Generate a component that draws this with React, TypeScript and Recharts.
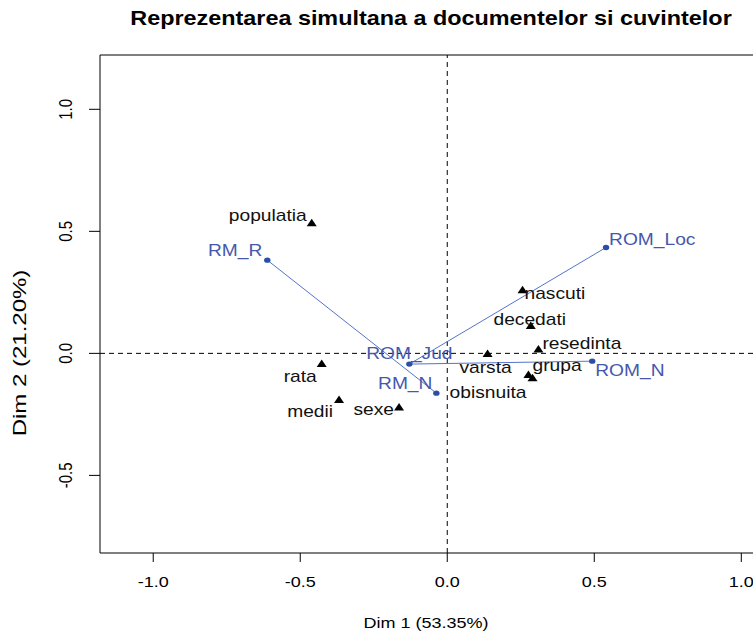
import { ScatterChart, Scatter, XAxis, YAxis, ReferenceLine, ReferenceArea } from 'recharts';

// documents (rows) and words (columns) on the first two CA dimensions
const docNames = ['RM_R', 'RM_N', 'ROM_Loc', 'ROM_Jud', 'ROM_N'];
const docDim1 = [-0.612, -0.037, 0.54, -0.129, 0.493];
const docDim2 = [0.382, -0.163, 0.434, -0.044, -0.032];

const wordNames = ['populatia', 'nascuti', 'decedati', 'resedinta', 'varsta', 'grupa', 'obisnuita', 'rata', 'medii', 'sexe'];
const wordDim1 = [-0.461, 0.256, 0.284, 0.31, 0.137, 0.29, 0.276, -0.427, -0.368, -0.164];
const wordDim2 = [0.533, 0.259, 0.112, 0.016, -0.003, -0.102, -0.089, -0.044, -0.191, -0.222];

const xTicks = [-1, -0.5, 0, 0.5, 1];
const yTicks = [-0.5, 0, 0.5, 1];
const xDomain = [-1.181, 1.0636];
const yDomain = [-0.818, 1.2225];

// where each label sits relative to its point (px)
const labelPos: Record<string, [string, number, number]> = {
  RM_R: ['end', -5, -10],
  RM_N: ['end', -4, -10],
  ROM_Loc: ['start', 3, -8],
  ROM_Jud: ['middle', 0, -11],
  ROM_N: ['start', 3, 9],
  populatia: ['end', -5, -8],
  nascuti: ['start', 2, 3],
  decedati: ['middle', -1, -6],
  resedinta: ['start', 4, -6],
  varsta: ['middle', -2, 13],
  grupa: ['start', 0, -13],
  obisnuita: ['end', -2, 17],
  rata: ['end', -5, 12],
  medii: ['end', -6, 12],
  sexe: ['end', -5, 2],
};

const FONT = '"Liberation Sans", Arial, Helvetica, sans-serif';
const SX = 1.2; // the picture is stretched sideways
const BLUE_TXT = '#4558ad';
const BLUE_LINE = '#5474c8';
const BLUE_DOT = '#2c4fa6';

const docs = docNames.map((name, i) => ({ name, x: docDim1[i], y: docDim2[i] }));
const rmDocs = docs.filter(d => d.name.startsWith('RM_'));
const romDocs = [docs[2], docs[3], docs[4]];
const words = wordNames.map((name, i) => ({ name, x: wordDim1[i], y: wordDim2[i] }));

function SText({ x, y, anchor = 'middle', rotate = false, sy = 1, size = 15, weight = 400, fill = '#000', baseline, children }: any) {
  return (
    <text
      transform={`translate(${x},${y}) scale(${SX},${sy})${rotate ? ' rotate(-90)' : ''}`}
      textAnchor={anchor}
      dominantBaseline={baseline}
      fontSize={size}
      fontWeight={weight}
      fill={fill}
      fontFamily={FONT}
    >
      {children}
    </text>
  );
}

function Label({ cx, cy, name, color }: any) {
  const [anchor, dx, dy] = labelPos[name] || ['start', 4, 0];
  return (
    <SText x={cx + dx} y={cy + dy} anchor={anchor} size={16} fill={color} baseline="central">
      {name}
    </SText>
  );
}

function DocShape(props: any) {
  const { cx, cy, payload } = props;
  return (
    <g>
      <ellipse cx={cx} cy={cy} rx={3.2} ry={2.7} fill={BLUE_DOT} />
      <Label cx={cx} cy={cy} name={payload.name} color={BLUE_TXT} />
    </g>
  );
}

function WordShape(props: any) {
  const { cx, cy, payload } = props;
  return (
    <g>
      <polygon points={`${cx - 5},${cy + 3} ${cx + 5},${cy + 3} ${cx},${cy - 4.5}`} fill="#000" />
      <Label cx={cx} cy={cy} name={payload.name} color="#111" />
    </g>
  );
}

export default function App() {
  return (
    <div style={{ position: 'absolute', left: 0, top: 0, width: 753, height: 631, overflow: 'hidden', background: '#fff' }}>
      <ScatterChart width={780} height={631} margin={{ top: 55, right: 20, bottom: 0, left: 0 }}>
        <XAxis
          type="number" dataKey="x" domain={xDomain} ticks={xTicks} allowDataOverflow
          axisLine={false} tickSize={9} tickLine={{ stroke: '#000' }}
          height={78}
          tick={(p: any) => (
            <SText key={p.index} x={p.x} y={587}>{Number(p.payload.value).toFixed(1)}</SText>
          )}
        />
        <YAxis
          type="number" dataKey="y" domain={yDomain} ticks={yTicks} allowDataOverflow
          axisLine={false} tickSize={11} tickLine={{ stroke: '#000' }}
          width={100}
          tick={(p: any) => (
            <SText key={p.index} x={66} y={p.y} rotate baseline="central">{Number(p.payload.value).toFixed(1)}</SText>
          )}
        />
        <ReferenceArea
          x1={xDomain[0]} x2={xDomain[1]} y1={yDomain[0]} y2={yDomain[1]}
          fill="none" fillOpacity={0} stroke="#000" strokeWidth={1} ifOverflow="visible"
        />
        <ReferenceLine x={0} stroke="#000" strokeDasharray="5 4" />
        <ReferenceLine y={0} stroke="#000" strokeDasharray="5 4" />
        <Scatter data={rmDocs} line={{ stroke: BLUE_LINE, strokeWidth: 1 }} lineType="joint" shape={DocShape} isAnimationActive={false} />
        <Scatter data={romDocs} line={{ stroke: BLUE_LINE, strokeWidth: 1 }} lineType="joint" shape={DocShape} isAnimationActive={false} />
        <Scatter data={words} shape={WordShape} isAnimationActive={false} />
      </ScatterChart>
      <svg width={753} height={631} style={{ position: 'absolute', left: 0, top: 0, pointerEvents: 'none' }}>
        <SText x={431} y={25} size={19.5} weight={700}>Reprezentarea simultana a documentelor si cuvintelor</SText>
        <SText x={426} y={628}>Dim 1 (53.35%)</SText>
        <SText x={20} y={353} sy={1.6} rotate baseline="central">Dim 2 (21.20%)</SText>
      </svg>
    </div>
  );
}
